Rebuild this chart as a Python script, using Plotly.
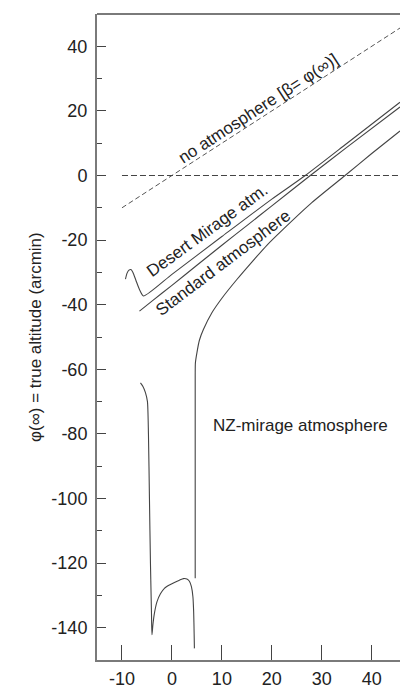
import plotly.graph_objects as go

# ---- data (arcmin) ----
noatm_x = [-10, 45.66]
noatm_y = [-10, 45.66]

zero_x = [-10, 45.66]
zero_y = [0, 0]

desert_x = [-9.3, -9.0, -8.6, -8.2, -7.8, -7.2, -6.5, -5.7, 0, 10, 20, 26.7, 35, 45.66]
desert_y = [-32.1, -30.3, -29.3, -29.1, -30.0, -32.5, -35.3, -37.3, -30.6, -18.9, -7.3, 0, 9.9, 22.7]

standard_x = [-6.5, -4, 0, 5, 10, 15, 20, 27.7, 35, 45.66]
standard_y = [-42.0, -38.9, -34.0, -27.8, -21.6, -15.5, -9.4, 0, 8.7, 21.2]

nz_upper_x = [4.66, 4.66, 4.7, 5.0, 5.5, 6.3, 8, 10, 13, 16, 19, 22.3, 28, 34.66, 40, 45.66]
nz_upper_y = [-124.7, -62, -58, -54.9, -51, -47.7, -42.5, -38, -32.2, -26.8, -21.6, -16.6, -8.4, 0, 6.8, 13.8]

nz_lower_x = [-6.3, -5.8, -5.3, -4.9, -4.7, -4.5, -4.3, -4.1, -4.0, -3.8, -3.5, -3.0, -2.3, -1.5,
              -0.5, 0.5, 1.5, 2.3, 3.0, 3.5, 3.9, 4.2, 4.35, 4.45, 4.5]
nz_lower_y = [-64.2, -65.3, -67.2, -70, -80, -100, -120, -135, -142.2, -139, -135.5, -132, -129.5, -127.8,
              -126.8, -126, -125.3, -124.8, -124.9, -125.6, -127.3, -130.4, -135, -142, -146.4]

x_ticks = [-10, 0, 10, 20, 30, 40]
x_ticktext = ["-10", "0", "10", "20", "30", "40"]
y_ticks = [40, 20, 0, -20, -40, -60, -80, -100, -120, -140]
y_ticktext = ["40", "20", "0", "-20", "-40", "-60", "-80", "-100", "-120", "-140"]
y_minor = [30, 10, -10, -30, -50, -70, -90, -110, -130]

FONT = "Liberation Sans, Arial, sans-serif"
LINE = "#444444"
AXIS = "#7a7a7a"
TXT = "#222222"

fig = go.Figure()
fig.add_trace(go.Scatter(x=noatm_x, y=noatm_y, mode="lines",
                         line=dict(color="#555555", width=1, dash="5px,3px")))
fig.add_trace(go.Scatter(x=zero_x, y=zero_y, mode="lines",
                         line=dict(color="#444444", width=1.2, dash="6px,3px")))
for xs, ys in [(desert_x, desert_y), (standard_x, standard_y),
               (nz_upper_x, nz_upper_y), (nz_lower_x, nz_lower_y)]:
    fig.add_trace(go.Scatter(x=xs, y=ys, mode="lines",
                             line=dict(color=LINE, width=1.1, shape="spline", smoothing=0.6)))

annos = [
    dict(x=17.3, y=20.8, text="no atmosphere [β= φ(∞)]", textangle=-33),
    dict(x=7.1, y=-17.0, text="Desert Mirage atm.", textangle=-36),
    dict(x=10.3, y=-26.8, text="Standard atmosphere", textangle=-37),
    dict(x=25.7, y=-77.4, text="NZ-mirage atmosphere", textangle=0),
]
for a in annos:
    fig.add_annotation(x=a["x"], y=a["y"], text=a["text"], textangle=a["textangle"],
                       showarrow=False, xref="x", yref="y",
                       font=dict(family=FONT, size=17, color=TXT))

fig.add_annotation(xref="paper", yref="paper", x=0, y=0.5, xshift=-62,
                   xanchor="center", yanchor="middle",
                   text="φ(∞) = true altitude (arcmin)", textangle=-90, showarrow=False,
                   font=dict(family=FONT, size=17, color=TXT))

fig.add_shape(type="line", xref="paper", yref="paper", x0=0, x1=1, y0=1, y1=1,
              line=dict(color=AXIS, width=2))

fig.update_layout(
    width=400, height=689,
    margin=dict(l=97, r=0, t=14, b=29),
    paper_bgcolor="white", plot_bgcolor="white",
    showlegend=False,
    xaxis=dict(range=[-15, 45.66], tickvals=x_ticks, ticktext=x_ticktext,
               ticks="inside", ticklen=15,
               tickcolor=LINE, tickwidth=1, showgrid=False, zeroline=False,
               showline=True, linecolor=AXIS, linewidth=2,
               tickfont=dict(family=FONT, size=18, color=TXT), ticklabelstandoff=1),
    yaxis=dict(range=[-150, 50], tickvals=y_ticks, ticktext=y_ticktext,
               ticks="inside", ticklen=9,
               tickcolor=LINE, tickwidth=1, showgrid=False, zeroline=False,
               showline=True, linecolor=AXIS, linewidth=2,
               minor=dict(tickvals=y_minor, ticks="inside", ticklen=5, tickcolor=LINE),
               tickfont=dict(family=FONT, size=18, color=TXT), ticklabelstandoff=4),
)

fig.write_html("out.html")
